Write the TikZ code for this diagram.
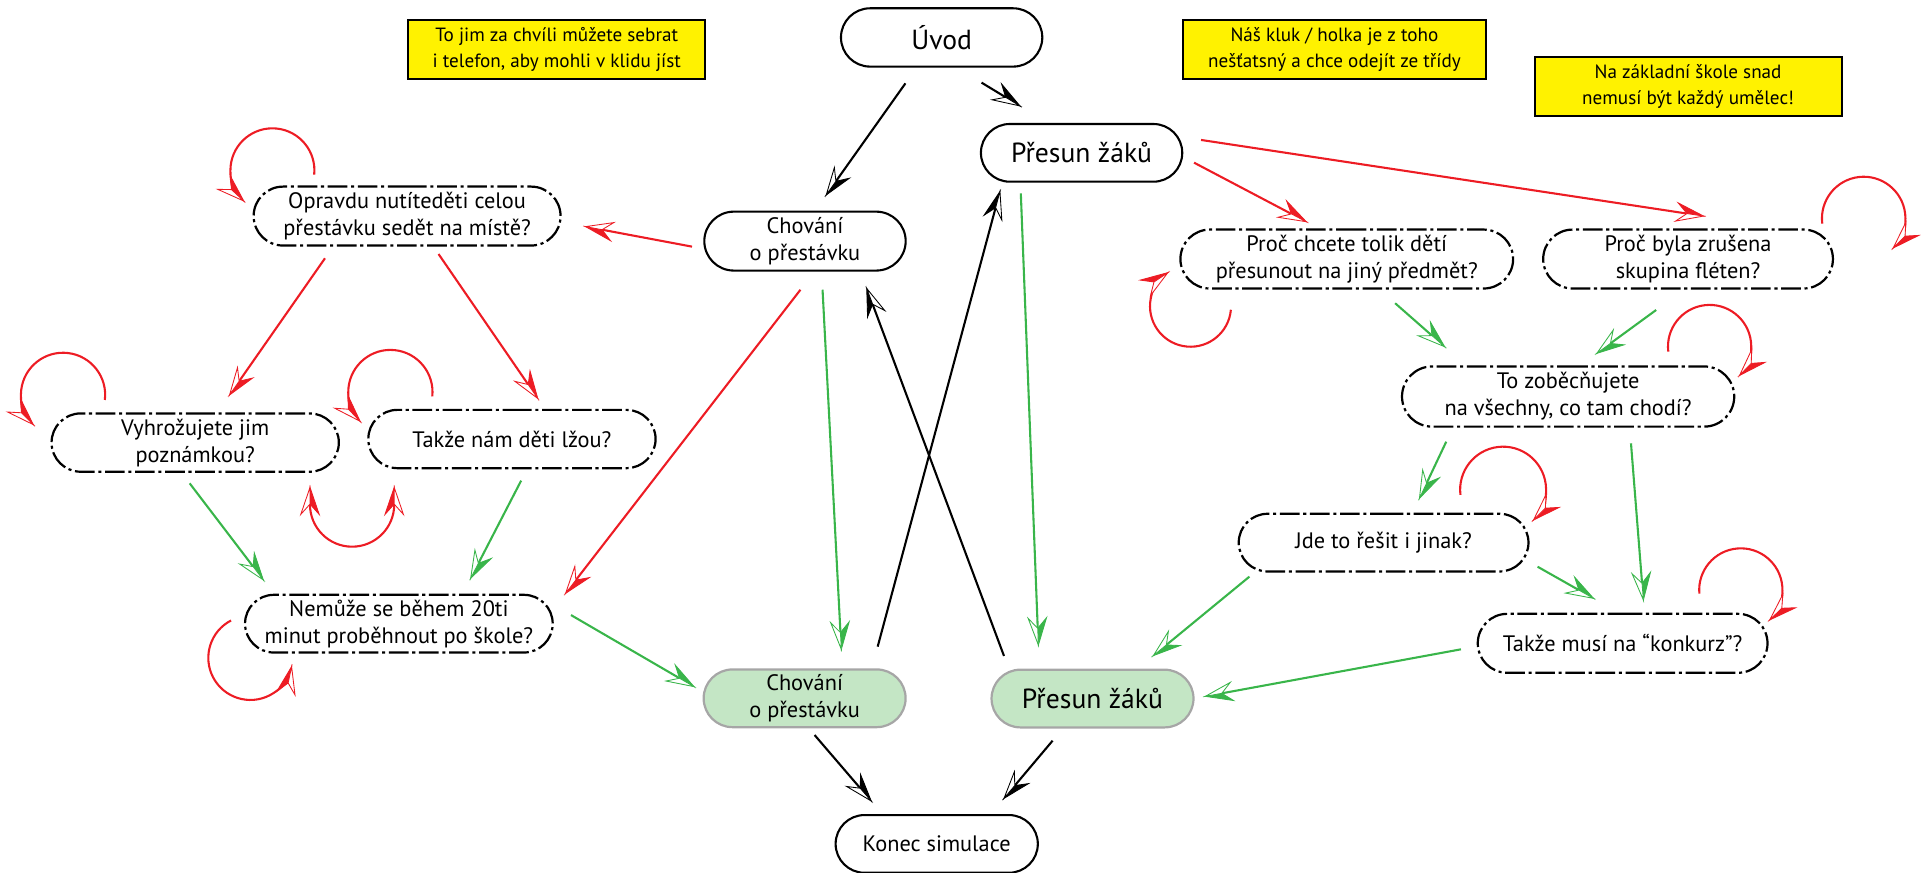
\documentclass[tikz,border=0pt]{standalone}
\usepackage{fontspec}
\setmainfont{PT Sans}
\usetikzlibrary{shapes.misc,arrows.meta}

\definecolor{lineRed}{HTML}{ED1C24}
\definecolor{lineGreen}{HTML}{39B54A}
\definecolor{noteYellow}{HTML}{FFF200}
\definecolor{doneFill}{HTML}{C4E6C5}
\definecolor{doneEdge}{HTML}{A6A6A6}

% Arrow tip: left half filled, right half hollow
\pgfdeclarearrow{
  name = Half,
  parameters = {\the\pgfarrowlength,\the\pgfarrowwidth},
  setup code = {
    \pgfarrowssettipend{0pt}
    \pgfarrowssetlineend{-.6\pgfarrowlength}
    \pgfarrowshullpoint{0pt}{0pt}
    \pgfarrowshullpoint{-\pgfarrowlength}{.5\pgfarrowwidth}
    \pgfarrowshullpoint{-\pgfarrowlength}{-.5\pgfarrowwidth}
    \pgfarrowssavethe\pgfarrowlength
    \pgfarrowssavethe\pgfarrowwidth
  },
  drawing code = {
    \pgfsetlinewidth{0.7pt}
    \pgfsetmiterjoin
    \pgfpathmoveto{\pgfpointorigin}
    \pgfpathlineto{\pgfpoint{-\pgfarrowlength}{.5\pgfarrowwidth}}
    \pgfpathlineto{\pgfpoint{-.62\pgfarrowlength}{0pt}}
    \pgfpathclose
    \pgfusepathqfillstroke
    \pgfpathmoveto{\pgfpointorigin}
    \pgfpathlineto{\pgfpoint{-\pgfarrowlength}{-.5\pgfarrowwidth}}
    \pgfpathlineto{\pgfpoint{-.62\pgfarrowlength}{0pt}}
    \pgfpathclose
    \pgfsetfillcolor{white}
    \pgfusepathqfillstroke
  },
  defaults = {length = 22pt, width = 15pt}
}
% Mirrored version of the same tip
\pgfdeclarearrow{
  name = HalfR,
  parameters = {\the\pgfarrowlength,\the\pgfarrowwidth},
  setup code = {
    \pgfarrowssettipend{0pt}
    \pgfarrowssetlineend{-.6\pgfarrowlength}
    \pgfarrowshullpoint{0pt}{0pt}
    \pgfarrowshullpoint{-\pgfarrowlength}{.5\pgfarrowwidth}
    \pgfarrowshullpoint{-\pgfarrowlength}{-.5\pgfarrowwidth}
    \pgfarrowssavethe\pgfarrowlength
    \pgfarrowssavethe\pgfarrowwidth
  },
  drawing code = {
    \pgfsetlinewidth{0.7pt}
    \pgfsetmiterjoin
    \pgfpathmoveto{\pgfpointorigin}
    \pgfpathlineto{\pgfpoint{-\pgfarrowlength}{-.5\pgfarrowwidth}}
    \pgfpathlineto{\pgfpoint{-.62\pgfarrowlength}{0pt}}
    \pgfpathclose
    \pgfusepathqfillstroke
    \pgfpathmoveto{\pgfpointorigin}
    \pgfpathlineto{\pgfpoint{-\pgfarrowlength}{.5\pgfarrowwidth}}
    \pgfpathlineto{\pgfpoint{-.62\pgfarrowlength}{0pt}}
    \pgfpathclose
    \pgfsetfillcolor{white}
    \pgfusepathqfillstroke
  },
  defaults = {length = 22pt, width = 15pt}
}

\tikzset{
  pill/.style={rounded rectangle, draw, line width=1.7pt, inner sep=0pt,
    align=center, font=\fontsize{18.2}{22}\selectfont},
  askbox/.style={pill, line width=1.8pt,
    dash pattern=on 16pt off 3pt on 2.5pt off 3pt},
  donebox/.style={pill, fill=doneFill, draw=doneEdge, line width=1.8pt},
  bigtext/.style={font=\fontsize{22.5}{26}\selectfont},
  note/.style={draw, fill=noteYellow, line width=1.6pt, inner sep=0pt,
    align=center, font=\fontsize{15.6}{21.5}\selectfont},
  conn/.style={line width=1.7pt, -{Half}},
  blk/.style={conn, color=black},
  rd/.style={conn, color=lineRed},
  gr/.style={conn, color=lineGreen},
}

\begin{document}
\begin{tikzpicture}[x=1pt,y=-1pt]
\useasboundingbox (0,0) rectangle (1568,711);

% notes
\node[note, minimum width=242pt, minimum height=48pt] (n1) at (453.5,40.5)
  {To jim za chvíli můžete sebrat\\i telefon, aby mohli v klidu jíst};
\node[note, minimum width=247pt, minimum height=48pt] (n2) at (1087,40.5)
  {Náš kluk / holka je z toho\\nešťatsný a chce odejít ze třídy};
\node[note, minimum width=250pt, minimum height=48pt] (n3) at (1375,70.5)
  {Na základní škole snad\\nemusí být každý umělec!};

% main states
\node[pill, bigtext, minimum width=164pt, minimum height=47.5pt] (uvod) at (767,30.5) {Úvod};
\node[pill, bigtext, minimum width=164pt, minimum height=47pt] (presA) at (881,124.5) {Přesun žáků};
\node[pill, minimum width=164pt, minimum height=48pt] (chovA) at (655.7,196.4)
  {Chování\\o přestávku};
\node[pill, minimum width=164.7pt, minimum height=47pt] (konec) at (763,687.4) {Konec simulace};
\node[donebox, minimum width=164.5pt, minimum height=47pt] (chovB) at (655.4,568.8)
  {Chování\\o přestávku};
\node[donebox, bigtext, minimum width=164.5pt, minimum height=47pt] (presB) at (889.9,569) {Přesun žáků};

% questions
\node[askbox, minimum width=250pt, minimum height=48pt] (opr) at (331.6,176)
  {Opravdu nutíteděti celou\\přestávku sedět na místě?};
\node[askbox, minimum width=234pt, minimum height=47.5pt] (vyh) at (159,360.5)
  {Vyhrožujete jim\\poznámkou?};
\node[askbox, minimum width=234pt, minimum height=47.5pt] (lzou) at (417,357.6)
  {Takže nám děti lžou?};
\node[askbox, minimum width=250.6pt, minimum height=47pt] (nem) at (324.9,508)
  {Nemůže se během 20ti\\minut proběhnout po škole?};
\node[askbox, minimum width=271pt, minimum height=48pt] (proc1) at (1097,211)
  {Proč chcete tolik dětí\\přesunout na jiný předmět?};
\node[askbox, minimum width=236pt, minimum height=48pt] (proc2) at (1375,211)
  {Proč byla zrušena\\skupina fléten?};
\node[askbox, minimum width=270.6pt, minimum height=49pt] (zob) at (1277.3,323)
  {To zoběcňujete\\na všechny, co tam chodí?};
\node[askbox, minimum width=236pt, minimum height=47pt] (jde) at (1127,442)
  {Jde to řešit i jinak?};
\node[askbox, minimum width=236pt, minimum height=48pt] (konk) at (1321.7,524)
  {Takže musí na “konkurz”?};

% black transitions
\draw[blk] ([shift={(-29.5,37.4)}]uvod.center) -- ([shift={(17.3,-37.6)}]chovA.center);
\draw[blk] ([shift={(32.5,36.8)}]uvod.center) -- ([shift={(-50.2,-38.2)}]presA.center);
\draw[blk] ([shift={(59.5,-42.1)}]chovB.center) -- ([shift={(-66.5,31.5)}]presA.center);
\draw[blk] ([shift={(-72.1,-34.7)}]presB.center) -- ([shift={(50.3,38.6)}]chovA.center);
\draw[blk] ([shift={(8.1,29.9)}]chovB.center) -- ([shift={(-53.4,-35)}]konec.center);
\draw[blk] ([shift={(-32.5,34.3)}]presB.center) -- ([shift={(54.8,-37.1)}]konec.center);

% red transitions
\draw[rd] ([shift={(-92,4.5)}]chovA.center) -- ([shift={(145.4,8.6)}]opr.center);
\draw[rd] ([shift={(-3.7,39.6)}]chovA.center) -- ([shift={(135.8,-24.7)}]nem.center);
\draw[rd] ([shift={(-66.9,34.4)}]opr.center) -- ([shift={(28,-38.8)}]vyh.center);
\draw[rd] ([shift={(25.6,30.9)}]opr.center) -- ([shift={(21,-33.1)}]lzou.center);
\draw[rd] ([shift={(91.6,8)}]presA.center) -- ([shift={(-33,-30.4)}]proc1.center);
\draw[rd] ([shift={(97.3,-10.5)}]presA.center) -- ([shift={(12.6,-35)}]proc2.center);

% green transitions
\draw[gr] ([shift={(14.3,39.6)}]chovA.center) -- ([shift={(29.9,-39.9)}]chovB.center);
\draw[gr] ([shift={(-49.5,33)}]presA.center) -- ([shift={(-44.1,-43.6)}]presB.center);
\draw[gr] ([shift={(-4.5,33.2)}]vyh.center) -- ([shift={(-110.4,-35.6)}]nem.center);
\draw[gr] ([shift={(7.5,33.9)}]lzou.center) -- ([shift={(58.5,-37)}]nem.center);
\draw[gr] ([shift={(140.2,-7)}]nem.center) -- ([shift={(-90.1,-9.5)}]chovB.center);
\draw[gr] ([shift={(39.4,36)}]proc1.center) -- ([shift={(-100.6,-40.6)}]zob.center);
\draw[gr] ([shift={(-26,41.5)}]proc2.center) -- ([shift={(23.4,-35.2)}]zob.center);
\draw[gr] ([shift={(-99.3,36.8)}]zob.center) -- ([shift={(29.2,-36.1)}]jde.center);
\draw[gr] ([shift={(51.2,38.1)}]zob.center) -- ([shift={(16.9,-35.3)}]konk.center);
\draw[gr] ([shift={(125.4,19.6)}]jde.center) -- ([shift={(-23.7,-36.6)}]konk.center);
\draw[gr] ([shift={(-109.3,27.7)}]jde.center) -- ([shift={(49.6,-35)}]presB.center);
\draw[gr] ([shift={(-131.7,4.9)}]konk.center) -- ([shift={(91.9,-1.8)}]presB.center);

% red self loops
\draw[rd] ([shift={(-75.7,-33.7)}]opr.center) arc[start angle=6, end angle=-227, radius=34.2];
\draw[rd] ([shift={(-73.6,-34.7)}]vyh.center) arc[start angle=7, end angle=-225, radius=34.3];
\draw[rd] ([shift={(-64.9,-34.7)}]lzou.center) arc[start angle=6, end angle=-224, radius=34.3];
\draw[rd, {HalfR}-{Half}] ([shift={(93.5,36.5)}]vyh.center) -- ++(0,14)
  arc[start angle=180, end angle=0, radius=34.3] -- ++(0,-14);
\draw[rd] ([shift={(-136.7,-2.6)}]nem.center) arc[start angle=242.6, end angle=12, radius=34.3];
\draw[rd] ([shift={(-94.4,41.3)}]proc1.center) arc[start angle=5, end angle=236, radius=33];
\draw[rd] ([shift={(109.3,-28.9)}]proc2.center) arc[start angle=173, end angle=405, radius=34];
\draw[rd] ([shift={(81.6,-36.6)}]zob.center) arc[start angle=173, end angle=404, radius=33.9];
\draw[rd] ([shift={(62.6,-38.9)}]jde.center) arc[start angle=173, end angle=405, radius=35];
\draw[rd] ([shift={(62.5,-40.5)}]konk.center) arc[start angle=175, end angle=406, radius=33.9];
\end{tikzpicture}
\end{document}
